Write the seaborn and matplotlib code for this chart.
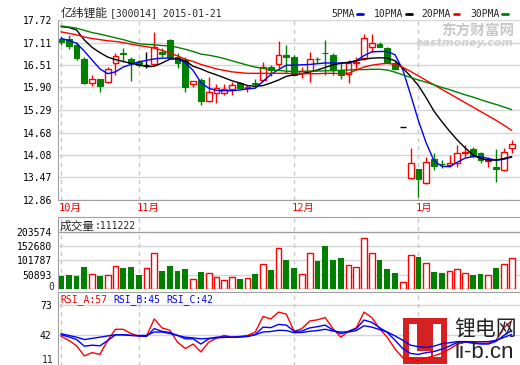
"""Candlestick quote chart: price with moving averages, volume and RSI."""
import numpy as np
import pandas as pd
import matplotlib
matplotlib.use('Agg')
import matplotlib.pyplot as plt
from matplotlib.patches import Rectangle
from matplotlib.lines import Line2D
from matplotlib.transforms import blended_transform_factory
import seaborn as sns

# daily candles (59 trading days)
opens = [17.22, 17.22, 17.045, 16.66, 16.01, 16.12, 16.055, 16.57, 16.83, 16.66,
         16.595, 16.505, 16.52, 16.85, 17.18, 16.73, 16.64, 16.00, 16.10, 15.54,
         15.76, 15.74, 15.87, 16.028, 15.875, 16.03, 16.10, 16.46, 16.52, 16.775,
         16.73, 16.28, 16.35, 16.67, 16.84, 16.775, 16.37, 16.25, 16.55, 16.685,
         17.00, 17.07, 16.955, 16.57, 14.82, 13.445, 13.69, 13.31, 13.96, 13.84,
         13.80, 13.87, 14.12, 14.228, 14.138, 13.90, 13.76, 13.67, 14.255]
highs = [17.30, 17.31, 17.135, 16.73, 16.235, 16.12, 16.46, 16.82, 16.955, 16.73,
         16.64, 16.865, 17.405, 16.955, 17.20, 16.82, 16.71, 16.08, 16.145, 16.19,
         15.98, 15.98, 16.055, 16.055, 15.965, 16.12, 16.595, 16.505, 17.15, 17.045,
         16.77, 16.46, 16.865, 16.73, 17.18, 16.82, 16.55, 16.64, 16.73, 17.34,
         17.34, 17.135, 16.98, 16.64, 14.82, 14.255, 13.69, 14.01, 14.12, 13.94,
         14.075, 14.345, 14.345, 14.30, 14.165, 14.03, 14.23, 14.255, 14.48]
lows = [17.05, 16.93, 16.64, 16.00, 15.94, 15.785, 16.01, 16.235, 16.595, 16.08,
        16.46, 16.415, 16.50, 16.73, 16.71, 16.415, 15.785, 15.92, 15.425, 15.515,
        15.47, 15.695, 15.695, 15.857, 15.785, 15.875, 16.10, 16.20, 16.415, 16.28,
        16.22, 16.145, 16.055, 16.55, 16.235, 16.235, 16.118, 16.03, 16.37, 16.64,
        16.865, 16.98, 16.55, 16.37, 14.82, 13.42, 12.93, 13.29, 13.67, 13.715,
        13.76, 13.76, 14.03, 14.03, 13.87, 13.76, 13.355, 13.65, 14.12]
closes = [17.12, 17.02, 16.685, 16.01, 16.12, 15.94, 16.39, 16.75, 16.79, 16.57,
          16.505, 16.505, 17.00, 16.80, 16.73, 16.55, 15.92, 16.08, 15.54, 15.77,
          15.88, 15.86, 15.956, 15.875, 15.92, 15.99, 16.44, 16.37, 16.775, 16.71,
          16.235, 16.35, 16.66, 16.655, 16.82, 16.37, 16.235, 16.55, 16.58, 17.225,
          17.09, 16.98, 16.57, 16.39, 14.82, 13.87, 13.42, 13.895, 13.78, 13.83,
          13.85, 14.14, 14.16, 14.048, 13.94, 13.94, 13.69, 14.165, 14.365]
volumes = [45150, 48600, 45150, 79600, 54300, 45150, 50900, 80800, 75000, 78500,
           50900, 73900, 126700, 64700, 81900, 64700, 71600, 37100, 61200, 56600,
           42900, 33700, 42900, 37100, 39400, 54300, 88800, 68100, 146300, 102600,
           75000, 54300, 126700, 99100, 154300, 102600, 109500, 85400, 78500, 180700,
           126700, 102600, 71600, 57800, 25600, 119900, 112900, 92300, 61200, 57800,
           64700, 71600, 57800, 50900, 54300, 50900, 75000, 88800, 111222]

# moving averages as drawn
ma5 = [17.22, 17.17, 17.09, 16.88, 16.64, 16.40, 16.27, 16.32, 16.45, 16.52,
       16.59, 16.63, 16.67, 16.69, 16.69, 16.67, 16.57, 16.36, 16.03, 15.88,
       15.82, 15.81, 15.81, 15.83, 15.86, 15.88, 16.06, 16.25, 16.38, 16.50,
       16.50, 16.51, 16.52, 16.54, 16.56, 16.56, 16.56, 16.56, 16.62, 16.76,
       16.86, 16.87, 16.87, 16.78, 16.37, 15.70, 15.00, 14.40, 13.92, 13.77,
       13.76, 13.88, 13.99, 14.03, 14.03, 13.98, 13.93, 13.96, 14.02]
ma10 = [17.54, 17.52, 17.45, 17.18, 16.98, 16.84, 16.72, 16.65, 16.60, 16.55,
        16.51, 16.46, 16.47, 16.56, 16.66, 16.68, 16.62, 16.47, 16.40, 16.31,
        16.24, 16.16, 16.08, 16.02, 15.95, 15.93, 15.95, 16.02, 16.10, 16.20,
        16.24, 16.27, 16.32, 16.37, 16.44, 16.51, 16.55, 16.58, 16.62, 16.66,
        16.69, 16.70, 16.69, 16.62, 16.42, 16.20, 15.95, 15.62, 15.26, 14.98,
        14.72, 14.48, 14.27, 14.08, 13.98, 13.94, 13.94, 13.98, 14.03]
ma20 = [17.40, 17.36, 17.32, 17.26, 17.22, 17.19, 17.16, 17.14, 17.11, 17.07,
        17.03, 17.00, 16.96, 16.90, 16.83, 16.75, 16.66, 16.60, 16.52, 16.46,
        16.40, 16.36, 16.32, 16.30, 16.28, 16.28, 16.28, 16.28, 16.28, 16.28,
        16.27, 16.27, 16.27, 16.27, 16.28, 16.28, 16.27, 16.28, 16.37, 16.45,
        16.50, 16.53, 16.55, 16.52, 16.44, 16.33, 16.21, 16.09, 15.97, 15.85,
        15.73, 15.61, 15.49, 15.37, 15.25, 15.13, 15.01, 14.88, 14.74]
ma30 = [17.56, 17.53, 17.50, 17.44, 17.38, 17.34, 17.29, 17.24, 17.19, 17.13,
        17.08, 17.06, 17.05, 17.03, 17.02, 16.98, 16.93, 16.87, 16.80, 16.77,
        16.73, 16.68, 16.62, 16.56, 16.50, 16.45, 16.41, 16.38, 16.36, 16.34,
        16.33, 16.33, 16.34, 16.34, 16.35, 16.35, 16.36, 16.37, 16.38, 16.38,
        16.39, 16.39, 16.37, 16.31, 16.24, 16.17, 16.10, 16.04, 15.97, 15.90,
        15.84, 15.77, 15.70, 15.64, 15.57, 15.50, 15.44, 15.37, 15.30]

rsi_a = [41.3, 37.0, 31.4, 21.0, 24.4, 22.6, 36.7, 48.3, 48.3, 44.0,
         41.3, 41.3, 58.9, 49.7, 47.3, 35.0, 28.6, 33.2, 25.1, 35.0,
         39.2, 42.0, 40.2, 41.0, 42.0, 45.5, 61.4, 58.9, 65.9, 63.8,
         46.2, 49.0, 56.8, 58.0, 60.3, 49.0, 40.2, 46.2, 49.7, 65.9,
         60.3, 49.0, 40.0, 28.0, 19.0, 18.0, 16.0, 19.0, 21.0, 24.0,
         28.0, 33.0, 35.0, 35.0, 34.0, 34.0, 37.0, 50.0, 57.0]
rsi_b = [42.7, 40.5, 37.8, 31.0, 32.0, 31.4, 36.7, 42.7, 42.7, 42.0,
         41.5, 41.0, 49.0, 46.2, 45.0, 42.0, 38.5, 38.5, 33.2, 38.5,
         40.2, 40.5, 40.2, 40.5, 41.0, 43.0, 50.5, 50.0, 53.3, 52.6,
         46.2, 46.5, 49.7, 51.0, 52.6, 47.5, 43.8, 46.2, 49.0, 57.8,
         55.4, 50.0, 45.0, 37.0, 28.5, 23.5, 22.6, 24.4, 25.5, 28.0,
         31.0, 35.0, 35.5, 34.0, 33.2, 33.2, 36.0, 42.0, 47.0]
rsi_c = [43.8, 42.0, 40.2, 37.8, 39.0, 40.2, 41.5, 42.7, 42.7, 42.0,
         42.0, 42.0, 45.5, 45.5, 44.0, 42.0, 40.2, 39.5, 38.5, 39.0,
         39.5, 40.0, 40.2, 40.5, 41.0, 42.7, 45.5, 46.0, 47.3, 47.0,
         44.8, 45.0, 46.2, 47.0, 48.3, 46.5, 45.5, 45.5, 47.0, 51.9,
         50.5, 48.0, 45.5, 41.5, 37.0, 32.0, 30.5, 29.7, 31.0, 33.5,
         34.5, 35.7, 35.7, 35.5, 35.5, 35.7, 37.0, 40.0, 43.0]

price_ticks = [12.86, 13.47, 14.08, 14.68, 15.29, 15.90, 16.51, 17.11, 17.72]
vol_ticks = [0, 50893, 101787, 152680, 203574]
rsi_ticks = [11, 42, 73]
month_pos = [0, 10, 30, 46]
month_labels = ['10月', '11月', '12月', '1月']
ma_names = ['5PMA', '10PMA', '20PMA', '30PMA']
ma_colors = {'5PMA': '#0000ff', '10PMA': '#000000', '20PMA': '#ff0000', '30PMA': '#008000'}
rsi_colors = {'RSI_A': '#ff0000', 'RSI_B': '#0000ff', 'RSI_C': '#0000ff'}

W, H = 520, 365
MONO = ['DejaVu Sans Mono', 'Noto Sans CJK SC']
CJK = ['Noto Sans CJK SC', 'DejaVu Sans']
RED, GREEN = '#ff0000', '#008000'
AXIS, GRID = '#a0a0a0', '#d6d6d6'

sns.set_style('white')
plt.rcParams['font.family'] = MONO

o, h, l, c = (np.array(v) for v in (opens, highs, lows, closes))
vol = np.array(volumes)
days = np.arange(len(closes))
up, down, flat = c > o, c < o, c == o

fig = plt.figure(figsize=(W / 100, H / 100), dpi=100)


def panel(left, top, right, bottom):
    return fig.add_axes([left / W, 1 - bottom / H, (right - left) / W, (bottom - top) / H])


def ftext(x, y, s, ha='left', **kw):
    fig.text(x / W, 1 - y / H, s, va='center', ha=ha, **kw)


ax_p = panel(58, 20, 520, 200)
ax_v = panel(58, 217, 520, 289)
ax_r = panel(58, 292, 520, 365.7)

for ax in (ax_p, ax_v, ax_r):
    ax.set_xlim(-0.39, (520 - 61) / 7.77)
    ax.set_xticks([])
    for side in ('top', 'right', 'bottom'):
        ax.spines[side].set_visible(False)
    ax.spines['left'].set_color(AXIS)
    ax.tick_params(axis='y', length=3, width=1, color='#808080', pad=1.5,
                   labelsize=7, labelcolor='black')
    for m in month_pos:
        ax.axvline(m, color='#c8c8c8', lw=1, ls=(0, (3, 3)), zorder=0.5)
ax_p.spines['bottom'].set_visible(True)
ax_p.spines['bottom'].set_color(AXIS)
for ax in (ax_v, ax_r):
    ax.spines['top'].set_visible(True)
    ax.spines['top'].set_color(AXIS)

# price panel
ax_p.set_ylim(price_ticks[0], price_ticks[-1])
ax_p.set_yticks(price_ticks, [f'{t:.2f}' for t in price_ticks])
for t in price_ticks:
    ax_p.axhline(t, color=GRID, lw=1, zorder=0.4)

colors = np.where(up, RED, np.where(down, GREEN, 'black'))
ax_p.vlines(days, np.maximum(o, c), h, colors=colors, lw=1, zorder=2)
ax_p.vlines(days, l, np.minimum(o, c), colors=colors, lw=1, zorder=2)
ax_p.bar(days[up], (c - o)[up], bottom=o[up], width=0.75, facecolor='white',
         edgecolor=RED, lw=1, zorder=2)
ax_p.bar(days[down], (o - c)[down], bottom=c[down], width=0.75, facecolor=GREEN,
         edgecolor=GREEN, lw=0.8, zorder=2)
ax_p.hlines(c[flat], days[flat] - 0.37, days[flat] + 0.37, colors='black', lw=1, zorder=2)

ma_long = pd.DataFrame({'day': days, '5PMA': ma5, '10PMA': ma10,
                        '20PMA': ma20, '30PMA': ma30}).melt('day', var_name='line',
                                                            value_name='price')
sns.lineplot(data=ma_long, x='day', y='price', hue='line', hue_order=ma_names,
             palette=ma_colors, lw=1, legend=False, ax=ax_p, zorder=3)
ax_p.set(xlabel='', ylabel='')

month_tr = blended_transform_factory(ax_p.transData, ax_p.transAxes)
for m, lab in zip(month_pos, month_labels):
    ax_p.text(m - 0.3, -0.015, lab, transform=month_tr, color=RED, fontsize=7.5,
              va='top', ha='left', family=MONO)

# volume panel; the bottom label sits inside the panel
ax_v.set_ylim(0, 255800)
ax_v.set_yticks(vol_ticks, [''] + [str(t) for t in vol_ticks[1:]])
for t in vol_ticks[1:]:
    ax_v.axhline(t, color=AXIS if t == vol_ticks[-1] else GRID, lw=1, zorder=0.4)
ax_v.bar(days[~down], vol[~down], width=0.75, facecolor='white', edgecolor=RED,
         lw=1, zorder=2)
ax_v.bar(days[down], vol[down], width=0.75, color=GREEN, lw=0, zorder=2)
ftext(54, 286.5, str(vol_ticks[0]), ha='right', fontsize=7, family=MONO)

# rsi panel
ax_r.set_ylim(11, 86.5)
ax_r.set_yticks(rsi_ticks, [''] + [str(t) for t in rsi_ticks[1:]])
for t in rsi_ticks[1:]:
    ax_r.axhline(t, color=GRID, lw=1, zorder=0.4)
ftext(54, 360, str(rsi_ticks[0]), ha='right', fontsize=7, family=MONO)
rsi_long = pd.DataFrame({'day': days, 'RSI_A': rsi_a, 'RSI_B': rsi_b,
                         'RSI_C': rsi_c}).melt('day', var_name='line', value_name='rsi')
sns.lineplot(data=rsi_long, x='day', y='rsi', hue='line', palette=rsi_colors, lw=1,
             legend=False, ax=ax_r, zorder=3)
ax_r.set(xlabel='', ylabel='')


# li-b.cn badge, under the rsi lines
def badge(x0, y0, x1, y1, color):
    ax_r.add_patch(Rectangle((x0 / W, 1 - y1 / H), (x1 - x0) / W, (y1 - y0) / H,
                             transform=fig.transFigure, facecolor=color, lw=0,
                             zorder=1, clip_on=False))


badge(403, 318, 447, 364, '#d42222')
badge(409, 324, 417, 357, 'white')
badge(409, 351, 431, 357, 'white')
badge(433, 324, 441, 357, 'white')
ftext(454, 329, '锂电网', fontsize=15, color='#222222', family=CJK)
ftext(454, 352, 'li-b.cn', fontsize=16, color='#222222', family='Liberation Sans')

# eastmoney watermark
ftext(441, 31, '东方财富网', fontsize=10.5, color='#c8c8c8', weight='bold', family=CJK)
ftext(416, 43, 'eastmoney.com', fontsize=8, color='#d0d0d0', weight='bold',
      style='italic', family='DejaVu Sans')

# headings
ftext(61, 13, '亿纬锂能', fontsize=8.5, family=CJK)
ftext(110, 13, '[300014] 2015-01-21', fontsize=7, family=MONO)
legend_x = [331, 374, 421.5, 470]
for name, x0 in zip(ma_names, legend_x):
    ftext(x0, 14, name, fontsize=7, family=MONO)
    x1 = x0 + len(name) * 5.9 + 2.5
    fig.add_artist(Line2D([x1 / W, (x1 + 5.5) / W], [1 - 14 / H] * 2,
                          color=ma_colors[name], lw=2))
ftext(60, 226, '成交量', fontsize=8.4, family=CJK)
ftext(95, 226, ':111222', fontsize=7, family=MONO)
ftext(60, 300, 'RSI_A:57', fontsize=7, color=RED, family=MONO)
ftext(113, 300, 'RSI_B:45', fontsize=7, color='#0000ff', family=MONO)
ftext(166, 300, 'RSI_C:42', fontsize=7, color='#0000ff', family=MONO)

fig.savefig('out.png', dpi=100)
